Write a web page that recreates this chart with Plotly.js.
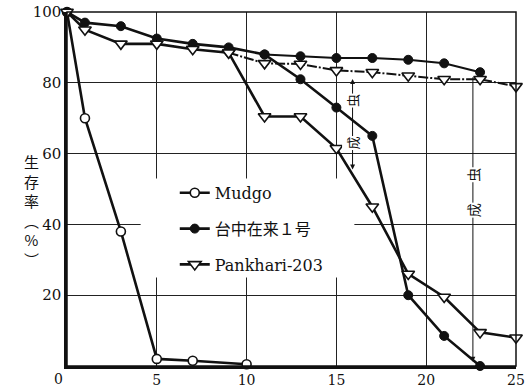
<!DOCTYPE html>
<html>
<head>
<meta charset="utf-8">
<script src="https://cdn.plot.ly/plotly-3.0.1.min.js"></script>
<style>
  html, body { margin: 0; padding: 0; background: #fff; }
  #chart { width: 529px; height: 389px; }
</style>
</head>
<body>
<div id="chart"></div>
<script>
// Survival rate (%) by day for three rice varieties
const mudgoDays = [0, 1, 3, 5, 7, 10];
const mudgo = [100, 70, 38, 2, 1.5, 0.5];

const taichungDays = [0, 1, 3, 5, 7, 9, 11, 13, 15, 17, 19, 21, 23];
const taichung = [100, 97, 96, 92.5, 91, 90, 88, 81, 73, 65, 20, 8.5, 0];
const taichungUpperDays = [11, 13, 15, 17, 19, 21, 23];
const taichungUpper = [88, 87.5, 87, 87, 86.5, 85.5, 83];

const pankhariDays = [0, 1, 3, 5, 7, 9, 11, 13, 15, 17, 19, 21, 23, 25];
const pankhari = [100, 95, 91, 91, 89.5, 88.5, 70.5, 70.5, 61.5, 45, 26, 19.5, 9.5, 8];
const pankhariUpperDays = [9, 11, 13, 15, 17, 19, 21, 23, 25];
const pankhariUpper = [88.5, 85.5, 85.3, 83.5, 83, 82, 81, 81, 79];

const seriesNames = ['Mudgo', '台中在来１号', 'Pankhari-203'];
const xTicks = [5, 10, 15, 20, 25];
const yTicks = [20, 40, 60, 80, 100];

const ink = '#111';
const serif = 'DejaVu Serif, Liberation Serif, serif';
const cjk = 'Noto Sans CJK JP, sans-serif';

const openCircle = { symbol: 'circle', size: 9, color: '#fff', line: { color: ink, width: 1.6 } };
const filledCircle = { symbol: 'circle', size: 9, color: ink, line: { color: ink, width: 1 } };
const openTri = { symbol: 'triangle-down', size: 11, color: '#fff', line: { color: ink, width: 1.6 } };

const traces = [
  { x: mudgoDays, y: mudgo, name: seriesNames[0], legendgroup: 'a', cliponaxis: false,
    mode: 'lines+markers', line: { color: ink, width: 2.6 }, marker: openCircle },
  { x: taichungUpperDays, y: taichungUpper, showlegend: false, cliponaxis: false,
    mode: 'lines+markers', line: { color: ink, width: 2 }, marker: filledCircle },
  { x: taichungDays, y: taichung, name: seriesNames[1], legendgroup: 'b', cliponaxis: false,
    mode: 'lines+markers', line: { color: ink, width: 2.6 }, marker: filledCircle },
  { x: pankhariUpperDays, y: pankhariUpper, showlegend: false, cliponaxis: false,
    mode: 'lines+markers', line: { color: ink, width: 2, dash: '10px,2px,2px,2px' }, marker: openTri },
  { x: pankhariDays, y: pankhari, name: seriesNames[2], legendgroup: 'c', cliponaxis: false,
    mode: 'lines+markers', line: { color: ink, width: 2.6 }, marker: openTri }
];

// rotated labels for the adult-emergence arrows
function vlabel(ch, x, y, size) {
  return { text: ch, x: x, y: y, xref: 'x', yref: 'y', showarrow: false, textangle: -90,
           font: { family: cjk, size: size, color: ink }, bgcolor: '#fff', borderpad: 0 };
}

const layout = {
  width: 529, height: 389,
  margin: { l: 67, r: 13, t: 12, b: 23 },
  paper_bgcolor: '#fff', plot_bgcolor: '#fff',
  showlegend: true,
  legend: {
    x: 0.24, y: 0.537, xanchor: 'left', yanchor: 'top',
    bgcolor: 'rgba(0,0,0,0)', traceorder: 'grouped', tracegroupgap: 12,
    font: { family: serif + ', ' + cjk, size: 16, color: ink }
  },
  xaxis: {
    range: [0, 25], tickvals: xTicks, ticktext: xTicks.map(String),
    showgrid: true, gridcolor: '#222', gridwidth: 1, zeroline: false,
    showline: true, linecolor: ink, linewidth: 2.6, ticks: '',
    tickfont: { family: serif, size: 14, color: ink }
  },
  yaxis: {
    range: [0, 100], tickvals: yTicks, ticktext: yTicks.map(String),
    showgrid: true, gridcolor: '#222', gridwidth: 1, zeroline: false,
    showline: true, linecolor: ink, linewidth: 2.6, ticks: '',
    tickfont: { family: serif, size: 15, color: ink }
  },
  shapes: [
    // frame on the top and right
    { type: 'rect', xref: 'paper', yref: 'paper', x0: 0, x1: 1, y0: 0, y1: 1,
      line: { color: ink, width: 1.5 }, layer: 'above' },
    // blank area behind the legend
    { type: 'rect', xref: 'x', yref: 'y', x0: 4.1, x1: 16.0, y0: 25, y1: 53,
      fillcolor: '#fff', line: { width: 0 }, layer: 'between' }
  ],
  annotations: [
    // y title, stacked vertically
    { text: '生<br>存<br>率<br>︵<br>%<br>︶', xref: 'paper', yref: 'paper', x: -0.1, y: 0.44,
      showarrow: false, font: { family: cjk, size: 15, color: ink } },
    // origin label
    { text: '0', xref: 'x', yref: 'paper', x: 0, y: 0, yanchor: 'top', xshift: -9, yshift: -3,
      showarrow: false, font: { family: serif, size: 14, color: ink } },
    // double-headed arrow near day 16
    { x: 15.9, y: 55.5, ax: 15.9, ay: 81.5, xref: 'x', yref: 'y', axref: 'x', ayref: 'y',
      text: '', showarrow: true, arrowside: 'end+start', arrowhead: 2, arrowsize: 1,
      arrowwidth: 1, arrowcolor: ink },
    vlabel('虫', 15.9, 75, 13),
    vlabel('成', 15.9, 63, 13),
    // arrow near day 23
    { x: 22.6, y: 1.2, ax: 22.6, ay: 82, xref: 'x', yref: 'y', axref: 'x', ayref: 'y',
      text: '', showarrow: true, arrowhead: 2, arrowsize: 1, arrowwidth: 1, arrowcolor: ink },
    vlabel('虫', 22.6, 54, 14),
    vlabel('成', 22.6, 44, 14)
  ]
};

Plotly.newPlot('chart', traces, layout, { staticPlot: true, displayModeBar: false });
</script>
</body>
</html>
